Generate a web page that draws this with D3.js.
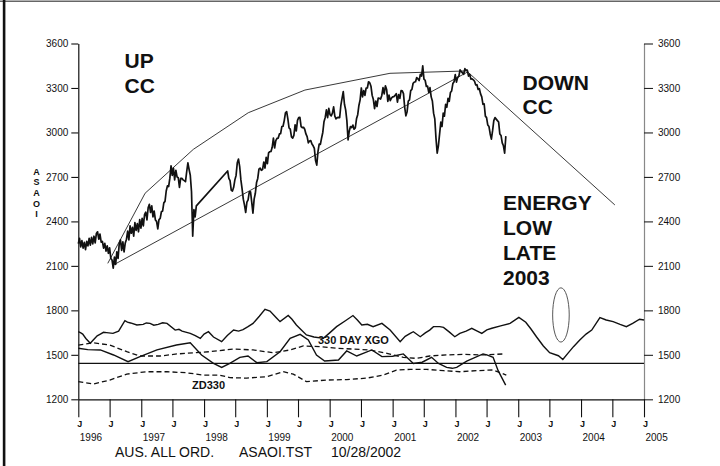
<!DOCTYPE html>
<html><head><meta charset="utf-8">
<script src="https://cdn.jsdelivr.net/npm/d3@7"></script>
<style>
body{margin:0;background:#fff}
svg{display:block;background:#fff}
text{font-family:"Liberation Sans",Arial,Helvetica,sans-serif;fill:#111}
</style>
</head><body>
<svg id="chart" width="720" height="466"></svg>
<script>
// ---------- DATA ----------
const yTickValues = [1200,1500,1800,2100,2400,2700,3000,3300,3600];
const yearLabels = ["1996","1997","1998","1999","2000","2001","2002","2003","2004","2005"];
const halfYearLabel = "J";
const axisTitle = ["A","S","A","O","I"];
const footerTexts = ["AUS. ALL ORD.","ASAOI.TST","10/28/2002"];

// ASAOI weekly closes from first week of 1996 (null = no data)
const priceStart = "1996-01-01";
const priceWeekly = [
2250,2285,2228,2270,2220,2258,2210,2265,2235,2285,
2240,2292,2248,2300,2255,2318,2330,2280,2315,2260,
2265,2220,2252,2200,2235,2185,2222,2150,2140,2085,
2160,2110,2195,2150,2250,2275,2205,2262,2195,2255,
2280,2335,2275,2370,2320,2360,2300,2392,2340,2385,
2330,2412,2355,2420,2370,2445,2462,2410,2492,2515,
2460,2505,2430,2470,2410,2400,2350,2412,2420,2465,
2470,2525,2535,2605,2640,2635,2690,2775,2710,2760,
2680,2745,2700,2695,2630,2690,2690,2680,2675,2668,
2735,2795,2750,2710,2600,2300,2480,2430,2505,
null,null,null,null,null,null,null,null,null,null,null,null,null,null,null,null,null,null,null,null,null,null,null,null,null,
2740,2690,2675,2610,2605,2630,
2680,2710,2795,2820,2770,2680,2620,2550,2510,2460,
2530,2545,2600,2600,2530,2455,2550,2590,2662,2690,
2752,2760,2745,2750,2800,2760,2832,2790,2862,2870,
2872,2900,2962,2895,2945,2960,2962,2990,2992,3040,
3042,3080,3132,3140,3092,3030,3022,2970,2962,2980,
3052,3010,3082,3100,3102,3040,3032,3035,3022,2990,
2972,2930,2942,2945,2922,2910,2892,2810,2780,2870,
2922,2920,2962,3000,3072,3100,3152,3100,3162,3120,
3112,3130,3172,3110,3092,3100,3102,3100,3182,3230,
3275,3190,3152,3080,2950,3010,3040,3032,3050,3022,
3030,3092,3120,3182,3220,3300,3240,3282,3250,3300,
3300,3342,3335,3312,3250,3222,3160,3212,3175,3232,
3230,3225,3250,3302,3260,3315,3290,3210,3252,3215,
3232,3240,3242,3250,3262,3205,3255,3230,3282,3280,
3262,3170,3112,3140,3212,3220,3282,3290,3332,3340,
3342,3370,3362,3350,3392,3380,3450,3360,3352,3310,
3312,3270,3302,3240,3212,3130,3092,2960,2860,2910,
2990,3070,3040,3130,3110,3190,3170,3230,3210,3270,
3280,3330,3342,3390,3340,3372,3380,3422,3410,3402,
3392,3430,3420,3420,3380,3392,3360,3362,3355,3345,
3320,3322,3290,3295,3260,3240,3190,3192,3110,3100,
3050,3040,2990,2955,3012,3080,3100,3090,3080,3070,
2990,2980,2930,2910,2860,2975
];

// Up CC envelope (decimal years / values)
const upCcYears  = [1996.468,1997.061,1997.829,1998.704,1999.606,2000.958,2002.178];
const upCcValues = [2117,2590,2886,3133,3286,3399,3415];
// Lower trend line
const trendYears  = [1996.557,2002.203];
const trendValues = [2106,3410];
// Down CC projection
const downCcYears  = [2002.178,2004.537];
const downCcValues = [3415,2511];

// Energy cycle (upper solid, projected to 2005)
const energyYears = [1996.00,1996.04,1996.07,1996.12,1996.19,1996.23,1996.26,1996.30,1996.35,1996.40,1996.45,1996.55,1996.64,1996.74,1996.78,1996.83,1996.93,1997.03,1997.08,1997.14,1997.20,1997.27,1997.34,1997.41,1997.54,1997.60,1997.65,1997.78,1997.86,1997.94,1998.00,1998.07,1998.15,1998.28,1998.37,1998.47,1998.55,1998.62,1998.70,1998.78,1998.88,1998.97,1999.05,1999.15,1999.21,1999.34,1999.40,1999.47,1999.55,1999.63,1999.75,1999.90,2000.00,2000.11,2000.25,2000.37,2000.44,2000.51,2000.60,2000.69,2000.83,2000.96,2001.12,2001.20,2001.28,2001.33,2001.44,2001.52,2001.59,2001.65,2001.75,2001.81,2001.90,2001.99,2002.07,2002.17,2002.26,2002.34,2002.42,2002.50,2002.58,2002.72,2002.87,2003.01,2003.12,2003.20,2003.29,2003.40,2003.50,2003.64,2003.71,2003.79,2003.88,2003.98,2004.08,2004.17,2004.30,2004.40,2004.51,2004.62,2004.72,2004.82,2004.93,2005.00];
const energyValues = [1656,1648,1640,1610,1578,1596,1610,1628,1640,1652,1650,1645,1660,1730,1720,1715,1701,1705,1715,1712,1700,1705,1716,1712,1667,1672,1660,1645,1630,1611,1640,1656,1620,1589,1630,1667,1660,1670,1690,1712,1760,1807,1795,1750,1724,1765,1740,1701,1668,1634,1620,1611,1648,1690,1730,1765,1735,1701,1706,1690,1712,1667,1589,1625,1645,1656,1622,1648,1667,1690,1690,1685,1655,1622,1645,1660,1679,1662,1645,1668,1679,1695,1712,1753,1720,1676,1622,1560,1514,1494,1469,1510,1555,1600,1640,1667,1751,1735,1724,1705,1690,1712,1740,1735];

// 330 DAY XGO (lower solid)
const xgoYears = [1996.00,1996.15,1996.35,1996.56,1996.79,1996.98,1997.25,1997.56,1997.78,1997.96,1998.15,1998.28,1998.41,1998.57,1998.70,1998.84,1999.00,1999.21,1999.37,1999.53,1999.66,1999.79,1999.92,2000.14,2000.27,2000.43,2000.67,2000.83,2001.00,2001.17,2001.33,2001.47,2001.62,2001.73,2001.86,2001.95,2002.02,2002.18,2002.44,2002.50,2002.60,2002.68,2002.80];
const xgoValues = [1544,1535,1533,1499,1454,1488,1533,1566,1581,1499,1442,1415,1442,1483,1492,1447,1454,1521,1611,1638,1600,1499,1458,1465,1526,1492,1533,1488,1490,1506,1442,1450,1483,1442,1415,1409,1415,1458,1506,1500,1483,1393,1296];

// upper dashed
const dashAYears = [1996.00,1996.24,1996.50,1996.77,1996.98,1997.30,1997.57,1997.83,1998.09,1998.46,1998.78,1999.10,1999.37,1999.58,1999.85,2000.11,2000.37,2000.64,2000.91,2001.17,2001.38,2001.59,2001.88,2002.14,2002.44,2002.76];
const dashAValues = [1566,1581,1566,1521,1492,1492,1506,1514,1521,1539,1533,1514,1533,1560,1555,1544,1539,1533,1510,1483,1476,1492,1500,1503,1499,1506];

// ZD330 (lower dashed)
const zdYears = [1996.00,1996.24,1996.50,1996.77,1997.09,1997.41,1997.72,1997.99,1998.25,1998.41,1998.68,1998.99,1999.26,1999.42,1999.63,1999.95,2000.27,2000.59,2000.85,2001.06,2001.28,2001.54,2001.81,2002.07,2002.34,2002.60,2002.81];
const zdValues = [1319,1303,1330,1370,1386,1386,1379,1363,1363,1346,1343,1352,1386,1370,1319,1330,1333,1343,1363,1397,1402,1402,1393,1386,1393,1398,1363];

const baseLineValue = 1443;
const ellipseCenter = [2003.68, 1769];
const ellipseRadiusValue = 183;  // vertical half-height in index points
const ellipseRadiusYears = 0.132; // horizontal half-width in years

// ---------- CHART ----------
const svg = d3.select("#chart");
const W = 720, H = 466;
const x0 = 78.3, x1 = 644;
const dy = t => { const y = Math.floor(t); const a = new Date(y,0,1), b = new Date(y+1,0,1); return new Date(+a + (t-y)*(b-a)); };
const x = d3.scaleTime().domain([new Date(1996,0,1), new Date(2005,0,1)]).range([x0, x1]);
const y = d3.scaleLinear().domain([1200,3600]).range([399.3, 43.5]);

// frame
svg.append("rect").attr("x",0).attr("y",0).attr("width",W).attr("height",H).attr("fill","#fff");
svg.append("line").attr("x1",0).attr("x2",W).attr("y1",1.2).attr("y2",1.2).attr("stroke","#666").attr("stroke-width",1.6);
svg.append("rect").attr("x",2.8).attr("y",0).attr("width",2.6).attr("height",H).attr("fill","#111");

// axes
const fontFam = '"Liberation Sans",Arial,Helvetica,sans-serif';
const fmt = d3.format("d");
const gl = svg.append("g").attr("transform",`translate(${x0},0)`)
  .call(d3.axisLeft(y).tickValues(yTickValues).tickFormat(fmt).tickSize(7).tickPadding(3).tickSizeOuter(0));
gl.select(".domain").attr("stroke","#111").attr("stroke-width",1.2);
gl.selectAll(".tick line").attr("stroke","#111").attr("stroke-width",1.1);
gl.selectAll("text").attr("font-size",10).attr("font-family",fontFam).attr("fill","#111");

const gr = svg.append("g").attr("transform",`translate(${x1},0)`)
  .call(d3.axisRight(y).tickValues(yTickValues).tickFormat(fmt).tickSize(9).tickPadding(5).tickSizeOuter(0));
gr.select(".domain").attr("stroke","#888").attr("stroke-width",1.2);
gr.selectAll(".tick line").attr("stroke","#222").attr("stroke-width",1.1);
gr.selectAll("text").attr("font-size",10).attr("font-family",fontFam).attr("fill","#111");

const halfYears = x.ticks(d3.timeMonth.every(6));
const gb = svg.append("g").attr("transform",`translate(0,${y(1200)})`)
  .call(d3.axisBottom(x).tickValues(halfYears).tickSize(18).tickSizeOuter(0).tickFormat(""));
gb.select(".domain").attr("stroke","#111").attr("stroke-width",1.3);
gb.selectAll(".tick line").attr("stroke","#111").attr("stroke-width",1.1);

svg.append("g").selectAll("text").data(halfYears).join("text")
  .attr("x",d=>x(d)+1.5).attr("y",426.5).attr("text-anchor","middle")
  .attr("font-size",9).attr("font-weight","bold").text(halfYearLabel);
svg.append("g").selectAll("text").data(yearLabels).join("text")
  .attr("x",d=>x(new Date(+d,0,1))+1.5).attr("y",440.5)
  .attr("font-size",10).text(d=>d);

// vertical axis title
svg.append("g").selectAll("text").data(axisTitle).join("text")
  .attr("x",36.5).attr("y",(d,i)=>174.5+i*10.7).attr("text-anchor","middle")
  .attr("font-size",9).attr("font-weight","bold").text(d=>d);

// footer
const footX = [115, 239, 331];
svg.append("g").selectAll("text").data(footerTexts).join("text")
  .attr("x",(d,i)=>footX[i]).attr("y",457).attr("font-size",14).text(d=>d);

// lines
const line = d3.line().x(d=>x(d[0])).y(d=>y(d[1]));
const zipY = (ys,vs) => ys.map((t,i)=>[dy(t),vs[i]]);

const start = new Date(priceStart+"T00:00:00");
const pricePts = priceWeekly.map((v,i)=>[d3.timeDay.offset(start,7*i),v]).filter(d=>d[1]!==null);

[[upCcYears,upCcValues],[trendYears,trendValues],[downCcYears,downCcValues]].forEach(([ys,vs])=>{
  svg.append("path").attr("d",line(zipY(ys,vs))).attr("fill","none")
    .attr("stroke","#222").attr("stroke-width",0.9);
});

svg.append("path").attr("d",line(pricePts)).attr("fill","none")
  .attr("stroke","#111").attr("stroke-width",1.7).attr("stroke-linejoin","round");

// lower panel
svg.append("line").attr("x1",x0).attr("x2",x1).attr("y1",y(baseLineValue)).attr("y2",y(baseLineValue))
  .attr("stroke","#111").attr("stroke-width",1.3);
svg.append("path").attr("d",line(zipY(energyYears,energyValues))).attr("fill","none")
  .attr("stroke","#111").attr("stroke-width",1.4);
svg.append("path").attr("d",line(zipY(xgoYears,xgoValues))).attr("fill","none")
  .attr("stroke","#111").attr("stroke-width",1.4);
svg.append("path").attr("d",line(zipY(dashAYears,dashAValues))).attr("fill","none")
  .attr("stroke","#111").attr("stroke-width",1.3).attr("stroke-dasharray","5,3");
svg.append("path").attr("d",line(zipY(zdYears,zdValues))).attr("fill","none")
  .attr("stroke","#111").attr("stroke-width",1.3).attr("stroke-dasharray","5,3");

// ellipse
const ec = dy(ellipseCenter[0]);
svg.append("ellipse").attr("cx",x(ec)).attr("cy",y(ellipseCenter[1]))
  .attr("rx",x(dy(ellipseCenter[0]+ellipseRadiusYears))-x(ec))
  .attr("ry",y(ellipseCenter[1]-ellipseRadiusValue)-y(ellipseCenter[1]))
  .attr("fill","none").attr("stroke","#444").attr("stroke-width",0.9);

// annotations
const big = [["UP",124.5,68],["CC",124.5,93],["DOWN",522.5,90],["CC",522.5,114],
             ["ENERGY",503,210],["LOW",503,235],["LATE",503,260],["2003",503,285]];
svg.append("g").selectAll("text").data(big).join("text")
  .attr("x",d=>d[1]).attr("y",d=>d[2]).attr("font-size",21).attr("font-weight","bold").text(d=>d[0]);
svg.append("text").attr("x",318).attr("y",343.5).attr("font-size",11).attr("font-weight","bold").text("330 DAY XGO");
svg.append("text").attr("x",192).attr("y",388.5).attr("font-size",11).attr("font-weight","bold").text("ZD330");
</script>
</body></html>
